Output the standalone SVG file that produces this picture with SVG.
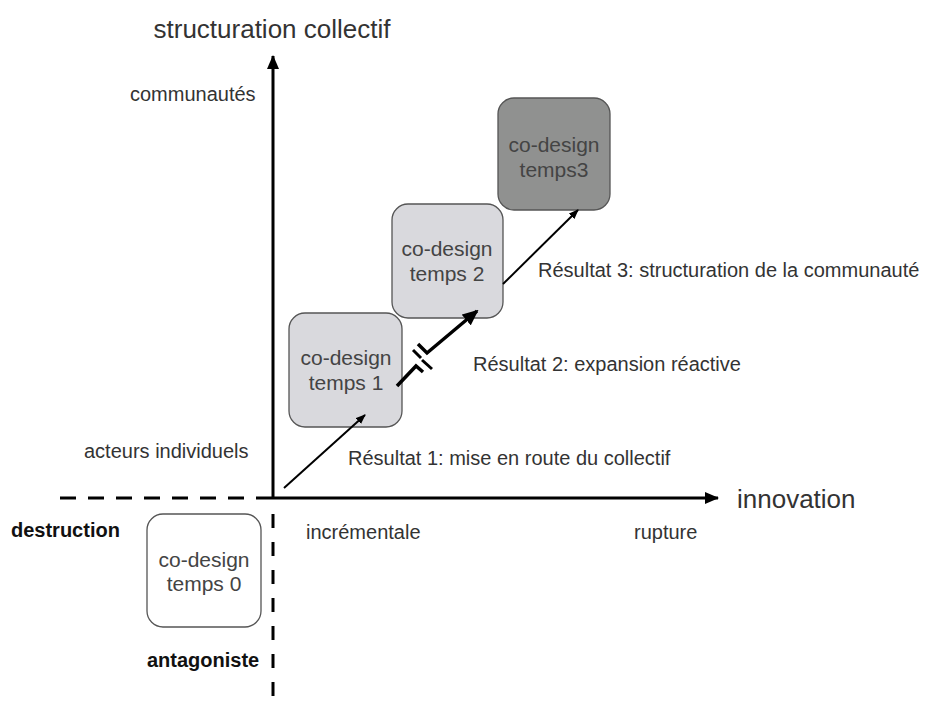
<svg xmlns="http://www.w3.org/2000/svg" width="927" height="709" viewBox="0 0 927 709">
<defs>
<style>
.t{font-family:"Liberation Sans",Arial,sans-serif;fill:#333;}
.lab{font-size:20px;}
.big{font-size:26px;}
.bold{font-family:"Liberation Sans",Arial,sans-serif;font-size:20px;font-weight:bold;fill:#111;}
.bt{font-family:"Liberation Sans",Arial,sans-serif;font-size:21px;fill:#444;text-anchor:middle;}
.box{stroke:#555;stroke-width:1.3;}
</style>
<marker id="ah" markerWidth="10" markerHeight="8" refX="9" refY="4" orient="auto" markerUnits="userSpaceOnUse"><path d="M0,0 L10,4 L0,8 z" fill="#000"/></marker>
<marker id="ahb" markerWidth="16" markerHeight="14" refX="14" refY="7" orient="auto" markerUnits="userSpaceOnUse"><path d="M0,0 L16,7 L0,14 z" fill="#000"/></marker>
<marker id="ax" markerWidth="14" markerHeight="12" refX="13" refY="6" orient="auto" markerUnits="userSpaceOnUse"><path d="M0,0 L14,6 L0,12 z" fill="#000"/></marker>
</defs>
<rect width="927" height="709" fill="#fff"/>
<g id="axes">
<line x1="273" y1="498" x2="273" y2="56" stroke="#000" stroke-width="3" marker-end="url(#ax)"/>
<line x1="272" y1="498" x2="718" y2="498" stroke="#000" stroke-width="3" marker-end="url(#ax)"/>
<line x1="60" y1="498" x2="272" y2="498" stroke="#000" stroke-width="3" stroke-dasharray="16,12"/>
<line x1="273" y1="514" x2="273" y2="709" stroke="#000" stroke-width="3" stroke-dasharray="14,14"/>
</g>
<g id="labels">
<text class="t big" x="272" y="38" text-anchor="middle">structuration collectif</text>
<text class="t big" x="737" y="508">innovation</text>
<text class="t lab" x="130" y="101">communautés</text>
<text class="t lab" x="84" y="458">acteurs individuels</text>
<text class="bold" x="11" y="537">destruction</text>
<text class="bold" x="147" y="667">antagoniste</text>
<text class="t lab" x="306" y="539">incrémentale</text>
<text class="t lab" x="634" y="539">rupture</text>
<text class="t lab" x="348" y="465">Résultat 1: mise en route du collectif</text>
<text class="t lab" x="473" y="371">Résultat 2: expansion réactive</text>
<text class="t lab" x="538" y="277">Résultat 3: structuration de la communauté</text>
</g>
<g id="node0">
<rect class="box" x="147" y="514" width="114" height="113" rx="16" fill="#fff"/>
<text class="bt" x="204" y="567">co-design</text>
<text class="bt" x="204" y="591">temps 0</text>
</g>
<g id="node1">
<rect class="box" x="289" y="313" width="113" height="114" rx="16" fill="#d9d9dd"/>
<text class="bt" x="346" y="365">co-design</text>
<text class="bt" x="346" y="390">temps 1</text>
</g>
<g id="node2">
<rect class="box" x="392" y="204" width="111" height="114" rx="16" fill="#d9d9dd"/>
<text class="bt" x="447" y="256">co-design</text>
<text class="bt" x="447" y="281">temps 2</text>
</g>
<g id="node3">
<rect class="box" x="498" y="98" width="112" height="112" rx="16" fill="#909190"/>
<text class="bt" x="554" y="152" fill="#333">co-design</text>
<text class="bt" x="554" y="177" fill="#333">temps3</text>
</g>
<g id="connectors" stroke="#000" fill="none">
<line x1="284" y1="488" x2="365" y2="415" stroke-width="2" marker-end="url(#ah)"/>
<polyline points="397,386 416,366 423,372" stroke-width="3.5"/>
<line x1="422" y1="360" x2="432" y2="369" stroke-width="3"/>
<line x1="413" y1="350" x2="421" y2="358" stroke-width="3"/>
<polyline points="418,344 427,353 477,311" stroke-width="3.5" marker-end="url(#ahb)"/>
<line x1="503" y1="284" x2="578" y2="210" stroke-width="2" marker-end="url(#ah)"/>
</g>
</svg>
